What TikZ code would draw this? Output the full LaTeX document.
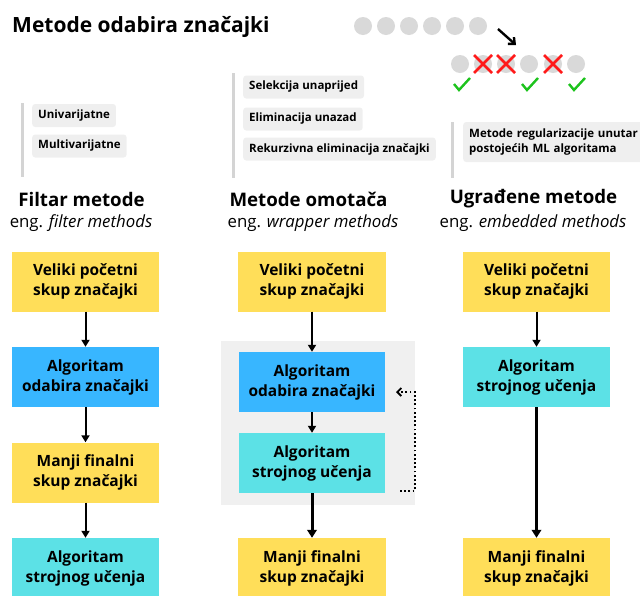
\documentclass[tikz,border=0pt]{standalone}
\usepackage{fontspec}
\setmainfont{Open Sans}
\usetikzlibrary{arrows.meta,calc}
\definecolor{cyellow}{HTML}{FFDE59}
\definecolor{cblue}{HTML}{38B6FF}
\definecolor{ccyan}{HTML}{5CE1E6}
\definecolor{tagbg}{HTML}{EFEFEF}
\definecolor{wrapbg}{HTML}{F0F0F0}
\definecolor{tline}{HTML}{D4D4D4}
\definecolor{dotgray}{HTML}{D9D9D9}
\definecolor{xred}{HTML}{FF1A1A}
\definecolor{cgreen}{HTML}{1DC31D}
\begin{document}
\begin{tikzpicture}[x=1pt,y=-1pt,
  box/.style={minimum width=147pt,minimum height=60pt,inner sep=0pt,align=center,
    font=\fontsize{15.5}{20}\selectfont\bfseries},
  tag/.style={fill=tagbg,rounded corners=3pt,anchor=west,inner xsep=6pt,inner ysep=0pt,
    minimum height=23pt,font=\fontsize{11.5}{15}\selectfont\bfseries},
  tagline/.style={draw=tline,line width=3pt},
  hdr/.style={font=\fontsize{18.7}{22}\selectfont\bfseries,inner sep=0pt},
  sub/.style={font=\fontsize{16.8}{20}\selectfont,inner sep=0pt},
  arr/.style={-{Triangle[length=7pt,width=8pt]},line width=2pt},
  thickarr/.style={-{Triangle[length=8pt,width=9.5pt]},line width=3pt},
  dotloop/.style={line width=1.8pt,dash pattern=on 1.8pt off 2.4pt,
    -{Straight Barb[length=4pt,width=8pt,line width=1.8pt]}},
  xmark/.style={draw=xred,line width=2.8pt},
  check/.style={draw=cgreen,line width=2.4pt},
]
\useasboundingbox (0,0) rectangle (640,595);

% title
\node[anchor=west,inner sep=0pt,font=\fontsize{21}{24}\selectfont\bfseries] (title) at (12,27) {Metode odabira značajki};

% top icon
\foreach \x in {363,386,409,432,455,478} \fill[dotgray] (\x,26) circle (9);
\draw[line width=2.4pt,-{Straight Barb[length=5pt,width=9pt,line width=2.4pt]}] (498,29) -- (516,45);
\foreach \x in {460,483,506,529,553,576} \fill[dotgray] (\x,64) circle (9);
\foreach \x in {483,506,553} {
  \draw[xmark] (\x-9,55) -- (\x+9,73);
  \draw[xmark] (\x+9,55) -- (\x-9,73);
}
\foreach \x in {462,530,577} \draw[check] (\x-8,84) -- (\x-3,90) -- (\x+8,78);

% tags column 1
\draw[tagline] (22,103) -- (22,177);
\node[tag] (t1) at (32,115.5) {Univarijatne};
\node[tag] (t2) at (32,146) {Multivarijatne};
% tags column 2
\draw[tagline] (233,73) -- (233,178);
\node[tag] (t3) at (243,87) {Selekcija unaprijed};
\node[tag] (t4) at (243,119) {Eliminacija unazad};
\node[tag] (t5) at (243,149) {Rekurzivna eliminacija značajki};
% tags column 3
\draw[tagline] (452,122) -- (452,178);
\node[tag,align=left,minimum height=40pt,text width=185pt] (t6) at (463,142) {Metode regularizacije unutar\\postojećih ML algoritama};

% headers
\node[hdr] (fh) at (81.5,199) {Filtar metode};
\node[sub] (fs) at (81,223) {eng. \textit{filter methods}};
\node[hdr] (wh) at (308.5,199) {Metode omotača};
\node[sub] (ws) at (313,223) {eng. \textit{wrapper methods}};
\node[hdr] (eh) at (533.5,199) {Ugrađene metode};
\node[sub] (es) at (533,223) {eng. \textit{embedded methods}};

% column 1
\node[box,fill=cyellow] (f1) at (85.5,281.5) {Veliki početni\\skup značajki};
\node[box,fill=cblue] (f2) at (85.5,377) {Algoritam\\odabira značajki};
\node[box,fill=cyellow] (f3) at (85.5,472.5) {Manji finalni\\skup značajki};
\node[box,fill=ccyan] (f4) at (85.5,568) {Algoritam\\strojnog učenja};
\draw[arr] (f1) -- (f2);
\draw[arr] (f2) -- (f3);
\draw[arr] (f3) -- (f4);

% column 2
\node[fill=wrapbg,minimum width=194pt,minimum height=164pt,inner sep=0pt] (wbg) at (318,423) {};
\node[box,fill=cyellow,minimum width=148pt] (w1) at (312,281.5) {Veliki početni\\skup značajki};
\node[box,fill=cblue,minimum width=146pt] (w2) at (312,382) {Algoritam\\odabira značajki};
\node[box,fill=ccyan,minimum width=146pt] (w3) at (312,463) {Algoritam\\strojnog učenja};
\node[box,fill=cyellow,minimum width=148pt] (w4) at (312,568) {Manji finalni\\skup značajki};
\draw[arr] (w1) -- (w2);
\draw[arr] (w2) -- (w3);
\draw[thickarr] (w3) -- (w4);
\coordinate (d1) at (400,491);
\coordinate (d2) at (415,392);
\coordinate (d3) at (396,392);
\draw[dotloop] (d1) -| (d2) -- (d3);

% column 3
\node[box,fill=cyellow] (e1) at (536.5,281.5) {Veliki početni\\skup značajki};
\node[box,fill=ccyan] (e2) at (536.5,377) {Algoritam\\strojnog učenja};
\node[box,fill=cyellow] (e3) at (536.5,568) {Manji finalni\\skup značajki};
\draw[arr] (e1) -- (e2);
\draw[thickarr] (e2) -- (e3);
\end{tikzpicture}
\end{document}
